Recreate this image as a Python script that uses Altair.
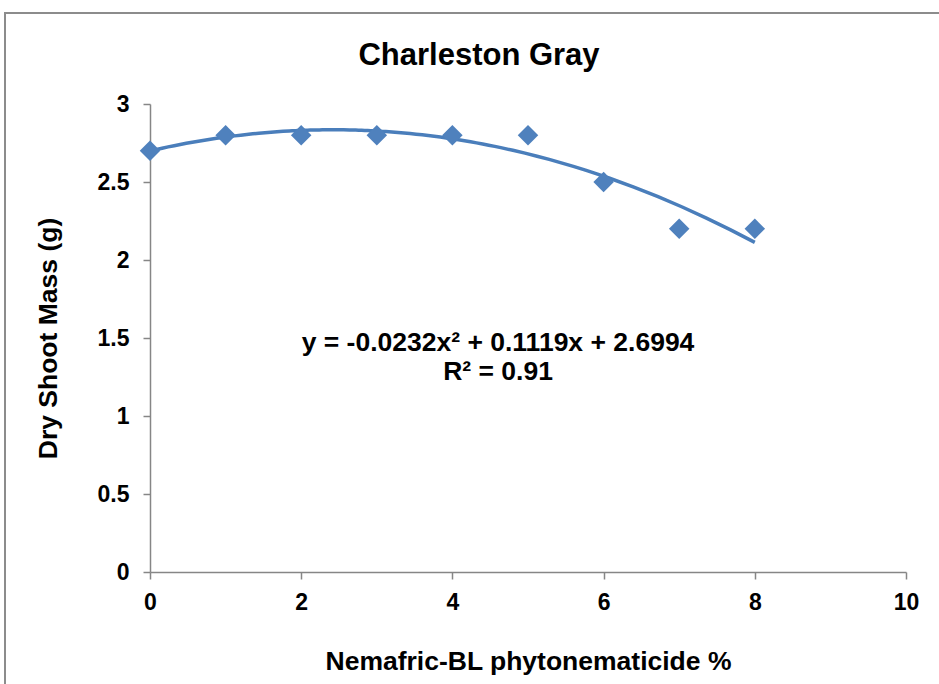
import altair as alt
import pandas as pd

# Data
concentration = [0, 1, 2, 3, 4, 5, 6, 7, 8]
dry_shoot_mass = [2.7, 2.8, 2.8, 2.8, 2.8, 2.8, 2.5, 2.2, 2.2]
x_ticks = [0, 2, 4, 6, 8, 10]
y_ticks = [0, 0.5, 1, 1.5, 2, 2.5, 3]
title_text = "Charleston Gray"
x_title = "Nemafric-BL phytonematicide %"
y_title = "Dry Shoot Mass (g)"
equation_line = "y = -0.0232x² + 0.1119x + 2.6994"
r2_line = "R² = 0.91"

df = pd.DataFrame({"x": concentration, "y": dry_shoot_mass})

FONT = "Liberation Sans"
BLUE = "#4F81BD"
AXIS_GRAY = "#868686"

x_enc = alt.X("x:Q", scale=alt.Scale(domain=[0, 10], nice=False),
              axis=alt.Axis(values=x_ticks, title=x_title, titlePadding=34,
                            labelPadding=12, tickSize=7, format="d",
                            labelFlush=False))
y_enc = alt.Y("y:Q", scale=alt.Scale(domain=[0, 3], nice=False),
              axis=alt.Axis(values=y_ticks, title=y_title, titlePadding=35,
                            labelPadding=14, tickSize=7, format="~g",
                            labelFlush=False))

base = alt.Chart(df)
one = pd.DataFrame({"a": [0]})

frame = alt.Chart(one).mark_rect(
    fill=None, stroke="#8c8c8c", strokeWidth=2
).encode(
    x=alt.value(-145), x2=alt.value(820),
    y=alt.value(-91), y2=alt.value(620)
)

trend = base.transform_regression(
    "x", "y", method="poly", order=2, extent=[0, 8]
).mark_line(color="#4A7EBB", strokeWidth=3.5).encode(x=x_enc, y=y_enc)

points = base.mark_point(shape="diamond", filled=True, size=420,
                         color=BLUE, opacity=1).encode(x=x_enc, y=y_enc)

def text_layer(txt, px, py, size):
    return alt.Chart(pd.DataFrame({"t": [txt]})).mark_text(
        font=FONT, fontSize=size, fontWeight="bold", color="black",
        align="center", baseline="alphabetic"
    ).encode(text="t:N", x=alt.value(px), y=alt.value(py))

ann1 = text_layer(equation_line, 348, 247, 26.5)
ann2 = text_layer(r2_line, 348, 276, 26.5)
title = text_layer(title_text, 329, -39, 31)

chart = alt.layer(frame, trend, points, ann1, ann2, title).properties(
    width=756, height=468,
    autosize=alt.AutoSizeParams(type="none"),
    padding={"left": 150, "top": 104, "right": 33, "bottom": 112},
).configure_view(stroke=None).configure_axis(
    domainColor=AXIS_GRAY, domainWidth=1.5, tickColor=AXIS_GRAY, tickWidth=1.5,
    grid=False, labelFont=FONT, labelFontSize=23, labelFontWeight="bold",
    labelColor="black", titleFont=FONT, titleFontSize=26.5, titleFontWeight="bold",
    titleColor="black"
)

chart.save("out.html", embed_options={"renderer": "svg", "actions": False})
